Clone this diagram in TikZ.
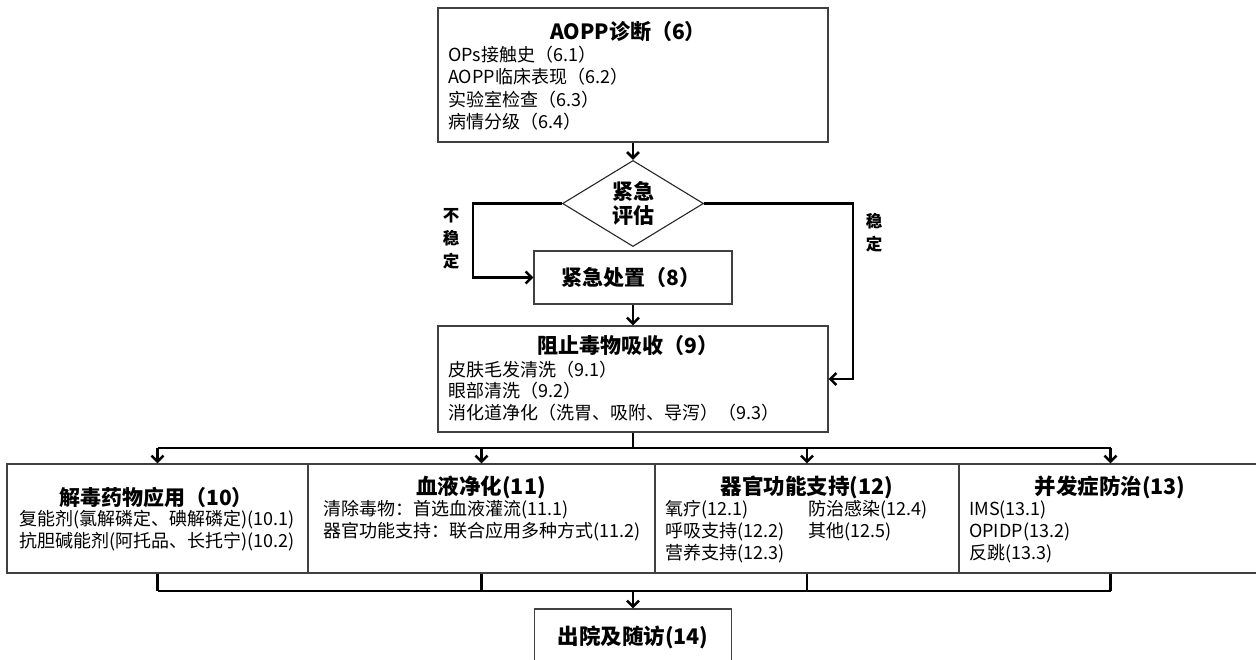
\documentclass[tikz,border=0pt]{standalone}
\usepackage{fontspec}
\setmainfont{Noto Sans CJK SC}
\usetikzlibrary{arrows.meta,shapes.geometric}
\tikzset{
  box/.style={draw=black!75, line width=1.1pt, rectangle, inner sep=0pt, fill=white},
  dia/.style={draw=black!85, line width=1.1pt, diamond, inner sep=0pt, minimum width=141pt, minimum height=77pt, align=center, font=\fontsize{21}{24}\selectfont\bfseries},
  conn/.style={line width=2.6pt, black},
  arr/.style={conn, -{Straight Barb[length=6pt,width=12pt]}},
  ttl/.style={inner sep=0pt, font=\fontsize{21}{22}\selectfont\bfseries},
  ttlb/.style={inner sep=0pt, font=\fontsize{21.5}{22}\selectfont\bfseries},
  txt/.style={inner sep=0pt, anchor=west, font=\fontsize{18}{22}\selectfont},
  ctxt/.style={inner sep=0pt, font=\fontsize{18}{22}\selectfont},
  lbl/.style={inner sep=0pt, align=center, font=\fontsize{16.5}{23}\selectfont\bfseries}
}
\begin{document}
\begin{tikzpicture}[x=1pt,y=-1pt]
\useasboundingbox (0,0) rectangle (1256,660);
\begin{scope}
\clip (0,0) rectangle (1256,660);
% boxes
\node[box, minimum width=390pt, minimum height=134pt] (b6) at (633,75) {};
\node[dia] (d) at (633,203.5) {紧急\\评估};
\node[box, minimum width=198pt, minimum height=53pt] (b8) at (633,277.5) {};
\node[box, minimum width=390pt, minimum height=106pt] (b9) at (633,379) {};
\node[box, minimum width=301pt, minimum height=109pt] (b10) at (157.5,518.5) {};
\node[box, minimum width=347pt, minimum height=109pt] (b11) at (481.5,518.5) {};
\node[box, minimum width=304pt, minimum height=109pt] (b12) at (807,518.5) {};
\node[box, minimum width=303pt, minimum height=109pt] (b13) at (1110.5,518.5) {};
\node[box, minimum width=197pt, minimum height=71pt] (b14) at (633,644.5) {};

% texts box 6
\node[ttl] (t6) at (628,32) {AOPP诊断（6）};
\node[txt] (t61) at (448,55) {OPs接触史（6.1）};
\node[txt] (t62) at (448,77) {AOPP临床表现（6.2）};
\node[txt] (t63) at (448,100) {实验室检查（6.3）};
\node[txt] (t64) at (448,122) {病情分级（6.4）};
% box 8
\node[ttl] (t8) at (631,278) {紧急处置（8）};
% box 9
\node[ttl] (t9) at (628,346) {阻止毒物吸收（9）};
\node[txt] (t91) at (448,370) {皮肤毛发清洗（9.1）};
\node[txt] (t92) at (448,391) {眼部清洗（9.2）};
\node[txt] (t93) at (448,413) {消化道净化（洗胃、吸附、导泻）（9.3）};
% box 10
\node[ttl] (t10) at (156,497) {解毒药物应用（10）};
\node[ctxt] (t101) at (157,520) {复能剂(氯解磷定、碘解磷定)(10.1)};
\node[ctxt] (t102) at (157,542) {抗胆碱能剂(阿托品、长托宁)(10.2)};
% box 11
\node[ttlb] (t11) at (481,487) {血液净化(11)};
\node[txt] (t111) at (323,510) {清除毒物：首选血液灌流(11.1)};
\node[txt] (t112) at (323,532) {器官功能支持：联合应用多种方式(11.2)};
% box 12
\node[ttlb] (t12) at (807,487) {器官功能支持(12)};
\node[txt] (t121) at (665,510) {氧疗(12.1)};
\node[txt] (t122) at (665,532) {呼吸支持(12.2)};
\node[txt] (t123) at (665,554) {营养支持(12.3)};
\node[txt] (t124) at (808,510) {防治感染(12.4)};
\node[txt] (t125) at (808,532) {其他(12.5)};
% box 13
\node[ttlb] (t13) at (1110,487) {并发症防治(13)};
\node[txt] (t131) at (969,510) {IMS(13.1)};
\node[txt] (t132) at (969,532) {OPIDP(13.2)};
\node[txt] (t133) at (969,554) {反跳(13.3)};
% box 14
\node[ttlb] (t14) at (633,637) {出院及随访(14)};

% labels
\node[lbl] (lu) at (451,239) {不\\稳\\定};
\node[lbl] (ls) at (874,233) {稳\\定};

% coordinates
\coordinate (L) at (473,203.5);
\coordinate (R) at (853,203.5);
\coordinate (busT) at (633,448);
\coordinate (busB) at (633,591);

% connectors
\draw[arr] (b6.south) -- (d.north);
\draw[arr] (d.west) -- (L) |- (b8.west);
\draw[arr] (d.east) -- (R) |- (b9.east);
\draw[arr] (b8.south) -- (b9.north);
\draw[conn] (b9.south) -- (busT);
\draw[conn] (b10.north |- busT) -- (b13.north |- busT);
\draw[arr] (b10.north |- busT) -- (b10.north);
\draw[arr] (b11.north |- busT) -- (b11.north);
\draw[arr] (b12.north |- busT) -- (b12.north);
\draw[arr] (b13.north |- busT) -- (b13.north);
\draw[conn] (b10.south) -- (b10.south |- busB);
\draw[conn] (b11.south) -- (b11.south |- busB);
\draw[conn] (b12.south) -- (b12.south |- busB);
\draw[conn] (b13.south) -- (b13.south |- busB);
\draw[conn] (b10.south |- busB) -- (b13.south |- busB);
\draw[arr] (busB) -- (b14.north);
\end{scope}
\end{tikzpicture}
\end{document}
